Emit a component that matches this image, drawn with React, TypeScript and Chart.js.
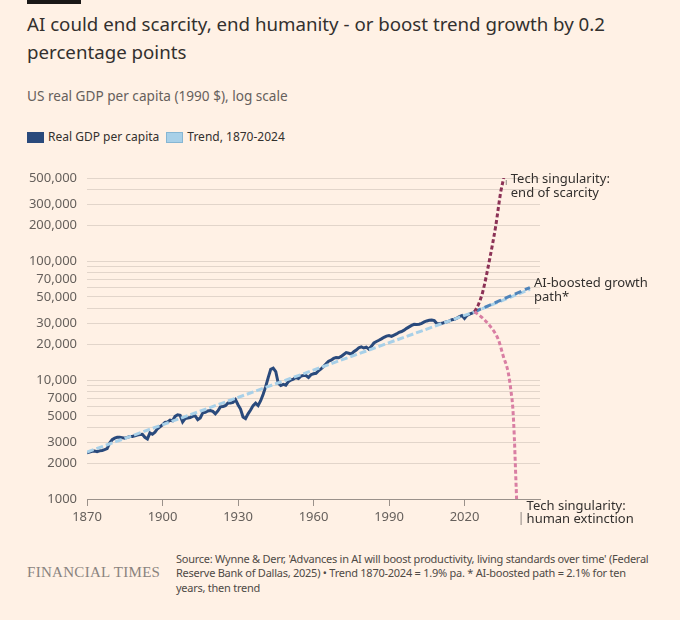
import { useEffect, useRef } from "react";
import { Chart, registerables } from "chart.js";

Chart.register(...registerables);

// US real GDP per capita (1990 $)
const gdpYears = [
  1870, 1871, 1872, 1873, 1874, 1875, 1876, 1877, 1878, 1879, 1880, 1881, 1882, 1883, 1884, 1885, 1886, 1887,
  1888, 1889, 1890, 1891, 1892, 1893, 1894, 1895, 1896, 1897, 1898, 1899, 1900, 1901, 1902, 1903, 1904, 1905,
  1906, 1907, 1908, 1909, 1910, 1911, 1912, 1913, 1914, 1915, 1916, 1917, 1918, 1919, 1920, 1921, 1922, 1923,
  1924, 1925, 1926, 1927, 1928, 1929, 1930, 1931, 1932, 1933, 1934, 1935, 1936, 1937, 1938, 1939, 1940, 1941,
  1942, 1943, 1944, 1945, 1946, 1947, 1948, 1949, 1950, 1951, 1952, 1953, 1954, 1955, 1956, 1957, 1958, 1959,
  1960, 1961, 1962, 1963, 1964, 1965, 1966, 1967, 1968, 1969, 1970, 1971, 1972, 1973, 1974, 1975, 1976, 1977,
  1978, 1979, 1980, 1981, 1982, 1983, 1984, 1985, 1986, 1987, 1988, 1989, 1990, 1991, 1992, 1993, 1994, 1995,
  1996, 1997, 1998, 1999, 2000, 2001, 2002, 2003, 2004, 2005, 2006, 2007, 2008, 2009, 2010, 2011, 2012, 2013,
  2014, 2015, 2016, 2017, 2018, 2019, 2020, 2021, 2022, 2023, 2024,
];
const gdpValues = [
  2450, 2480, 2520, 2530, 2500, 2540, 2560, 2600, 2650, 2950, 3150, 3250, 3300, 3300, 3280, 3250, 3300, 3350,
  3350, 3400, 3450, 3480, 3500, 3300, 3200, 3600, 3500, 3650, 3900, 4050, 4200, 4400, 4450, 4600, 4550, 4950,
  5100, 5050, 4450, 4750, 4800, 4850, 4950, 5000, 4650, 4800, 5300, 5350, 5500, 5550, 5450, 5200, 5500, 5950,
  6000, 6100, 6400, 6400, 6500, 6850, 6200, 5700, 4900, 4750, 5200, 5600, 6100, 6400, 6100, 6700, 7600, 8800,
  10500, 12300, 12600, 11800, 9400, 9000, 9200, 9050, 9700, 10000, 10200, 10500, 10300, 10800, 10900, 10900, 10500, 11100,
  11300, 11400, 12000, 12400, 13000, 13700, 14400, 14700, 15200, 15500, 15400, 15800, 16400, 17000, 16800, 16500, 17300, 17900,
  18700, 19000, 18600, 18900, 18200, 19200, 20500, 21100, 21600, 22200, 22900, 23400, 23700, 23300, 23900, 24400, 25200, 25600,
  26300, 27200, 28000, 28800, 29400, 29300, 29500, 30000, 30800, 31400, 31800, 32000, 31600, 29900, 29700, 30000, 30500, 30900,
  31500, 32200, 32500, 33200, 34100, 34900, 33000, 35000, 35800, 36600, 37500,
];

// Trend 1870-2024 (and its continuation under the AI path)
const trendYears = [1870, 2024, 2046];
const trendValues = [2480, 37500, 58000];

// AI-boosted growth path
const aiYears = [2024, 2034, 2046];
const aiValues = [37500, 46500, 60000];

// Tech singularity: end of scarcity
const scarcityYears = [2024, 2025.5, 2027.2, 2030, 2032.4, 2034.4, 2035.6];
const scarcityValues = [37500, 43000, 54700, 104000, 197000, 382000, 500000];

// Tech singularity: human extinction
const extinctionYears = [2024, 2027, 2030.1, 2033.4, 2035.4, 2037.4, 2038.5, 2039.2, 2039.8, 2040.3, 2040.7];
const extinctionValues = [37500, 33500, 28500, 22000, 15900, 11500, 8000, 5800, 3300, 1700, 1000];

// axes
const xTickYears = [1870, 1900, 1930, 1960, 1990, 2020];
const yGridValues = [
  1000, 2000, 3000, 4000, 5000, 6000, 7000, 8000, 9000,
  10000, 20000, 30000, 40000, 50000, 60000, 70000, 80000, 90000,
  100000, 200000, 300000, 400000, 500000,
];
const yLabelValues = [1000, 2000, 3000, 5000, 7000, 10000, 20000, 30000, 50000, 70000, 100000, 200000, 300000, 500000];

const FONT = '"Noto Sans", sans-serif';
const INK = "#33302e";
const MUTED = "#66605c";
const BG = "#fff1e5";
const GRID = "#e2d5ca";

const C_GDP = "#2a4a7c";
const C_TREND = "#a8d0e8";
const C_AI = "#4f84ba";
const C_SCARCITY = "#8c3256";
const C_EXTINCTION = "#d97ea3";

const pts = (xs: number[], ys: number[]) => xs.map((x, i) => ({ x, y: ys[i] }));

const endLabels = {
  id: "endLabels",
  afterDraw(chart: any) {
    const { ctx } = chart;
    const xs = chart.scales.x;
    const ys = chart.scales.y;
    const at = (yr: number[], v: number[]) => ({
      x: xs.getPixelForValue(yr[yr.length - 1]),
      y: ys.getPixelForValue(v[v.length - 1]),
    });
    ctx.save();
    ctx.font = `13px ${FONT}`;
    ctx.fillStyle = INK;
    ctx.textAlign = "left";
    ctx.textBaseline = "middle";
    ctx.strokeStyle = "#8f8781";
    ctx.lineWidth = 1;

    const s = at(scarcityYears, scarcityValues);
    ctx.fillText("Tech singularity:", s.x + 7, s.y + 1);
    ctx.fillText("end of scarcity", s.x + 7, s.y + 15);
    ctx.beginPath();
    ctx.moveTo(s.x + 2.5, s.y + 2);
    ctx.lineTo(s.x + 2.5, s.y + 7);
    ctx.stroke();

    const a = at(aiYears, aiValues);
    ctx.fillText("AI-boosted growth", a.x + 4, a.y - 4);
    ctx.fillText("path*", a.x + 4, a.y + 10);

    const e = at(extinctionYears, extinctionValues);
    ctx.fillText("Tech singularity:", e.x + 10, e.y + 7);
    ctx.fillText("human extinction", e.x + 10, e.y + 20);
    ctx.beginPath();
    ctx.moveTo(e.x + 4.5, e.y + 13);
    ctx.lineTo(e.x + 4.5, e.y + 26);
    ctx.stroke();
    ctx.restore();
  },
};

const GdpChart = () => {
  const canvasRef = useRef<HTMLCanvasElement | null>(null);

  useEffect(() => {
    if (!canvasRef.current) return;
    const ctx = canvasRef.current.getContext("2d");
    if (!ctx) return;

    const line = (data: any, color: string, dash: number[], order: number) => ({
      data,
      borderColor: color,
      backgroundColor: color,
      borderWidth: 3,
      borderDash: dash,
      pointRadius: 0,
      fill: false,
      order,
    });

    const chart = new Chart(ctx, {
      type: "line",
      data: {
        datasets: [
          { ...line(pts(gdpYears, gdpValues), C_GDP, [], 5), tension: 0 },
          { ...line(pts(trendYears, trendValues), C_TREND, [7, 3], 4) },
          { ...line(pts(aiYears, aiValues), C_AI, [7, 4], 3) },
          { ...line(pts(scarcityYears, scarcityValues), C_SCARCITY, [4, 2.5], 2), cubicInterpolationMode: "monotone" },
          { ...line(pts(extinctionYears, extinctionValues), C_EXTINCTION, [4, 2.5], 1), cubicInterpolationMode: "monotone" },
        ],
      },
      options: {
        animation: false,
        responsive: false,
        layout: { padding: { top: 18, right: 140, left: 0, bottom: 0 } },
        plugins: { legend: { display: false }, tooltip: { enabled: false } },
        scales: {
          x: {
            type: "linear",
            min: 1870,
            max: 2050,
            afterBuildTicks: (scale: any) => {
              scale.ticks = xTickYears.map((value) => ({ value }));
            },
            afterFit: (scale: any) => {
              scale.height = 41;
            },
            ticks: {
              autoSkip: false,
              maxRotation: 0,
              padding: 3,
              color: MUTED,
              font: { family: FONT, size: 13 },
              callback: (v: any) => String(v),
            },
            grid: { drawOnChartArea: false, drawTicks: true, tickLength: 7, color: "#9a918a" },
            border: { display: true, color: "#9a918a", width: 1 },
          },
          y: {
            type: "logarithmic",
            min: 1000,
            max: 500000,
            afterBuildTicks: (scale: any) => {
              scale.ticks = yGridValues.map((value) => ({ value }));
            },
            afterFit: (scale: any) => {
              scale.width = 87;
            },
            ticks: {
              autoSkip: false,
              padding: 10,
              color: MUTED,
              font: { family: FONT, size: 13 },
              callback: (v: any) => {
                const n = Number(v);
                if (!yLabelValues.includes(n)) return "";
                return n >= 10000 ? n.toLocaleString("en-US") : String(n);
              },
            },
            grid: { color: GRID, lineWidth: 1, drawTicks: false },
            border: { display: false },
          },
        },
      },
      plugins: [endLabels],
    });

    return () => {
      chart.destroy();
    };
  }, []);

  return (
    <canvas
      ref={canvasRef}
      width={680}
      height={380}
      style={{ position: "absolute", left: 0, top: 160, width: 680, height: 380 }}
    ></canvas>
  );
};

const LegendItem = ({ color, border, label }: { color: string; border: string; label: string }) => (
  <span style={{ display: "inline-flex", alignItems: "center", marginRight: 7 }}>
    <span
      style={{
        display: "inline-block",
        width: 15,
        height: 9,
        background: color,
        border: `1px solid ${border}`,
        marginRight: 4,
      }}
    ></span>
    {label}
  </span>
);

const App = () => {
  useEffect(() => {
    document.body.style.margin = "0";
    document.body.style.background = BG;
  }, []);

  return (
    <div style={{ position: "relative", width: 680, height: 620, background: BG, overflow: "hidden", fontFamily: FONT }}>
      <div style={{ position: "absolute", left: 27, top: 0, width: 54, height: 4, background: "#1a1817" }}></div>
      <div
        style={{
          position: "absolute",
          left: 27,
          top: 10,
          width: 640,
          fontSize: 18.7,
          lineHeight: "28px",
          color: INK,
          whiteSpace: "nowrap",
        }}
      >
        AI could end scarcity, end humanity - or boost trend growth by 0.2
        <br />
        percentage points
      </div>
      <div style={{ position: "absolute", left: 27, top: 86, fontSize: 13.6, lineHeight: "20px", color: MUTED }}>
        US real GDP per capita (1990 $), log scale
      </div>
      <div style={{ position: "absolute", left: 27, top: 128, fontSize: 12, lineHeight: "18px", color: INK, display: "flex" }}>
        <LegendItem color={C_GDP} border={C_GDP} label="Real GDP per capita" />
        <LegendItem color={C_TREND} border="#86b6d3" label="Trend, 1870-2024" />
      </div>
      <GdpChart />
      <div
        style={{
          position: "absolute",
          left: 27,
          top: 562,
          fontFamily: '"Liberation Serif", serif',
          fontSize: 15,
          lineHeight: "20px",
          color: "#8a837e",
          letterSpacing: 0.3,
        }}
      >
        FINANCIAL TIMES
      </div>
      <div
        style={{
          position: "absolute",
          left: 176,
          top: 552,
          fontSize: 11,
          letterSpacing: -0.25,
          lineHeight: "14.3px",
          color: "#4f4a46",
          whiteSpace: "nowrap",
        }}
      >
        Source: Wynne &amp; Derr, 'Advances in AI will boost productivity, living standards over time' (Federal
        <br />
        Reserve Bank of Dallas, 2025) • Trend 1870-2024 = 1.9% pa. * AI-boosted path = 2.1% for ten
        <br />
        years, then trend
      </div>
    </div>
  );
};

export default App;
